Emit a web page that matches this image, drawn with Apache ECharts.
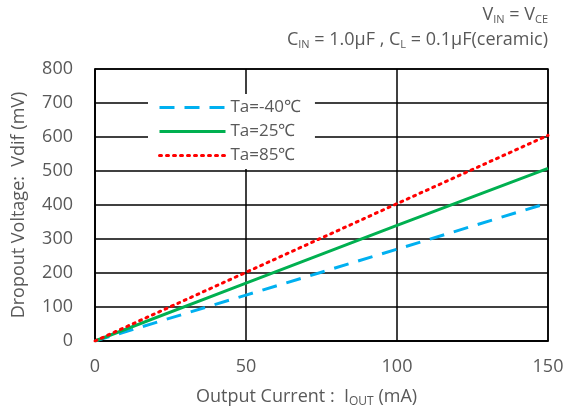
<!DOCTYPE html>
<html><head><meta charset="utf-8">
<script src="https://cdn.jsdelivr.net/npm/echarts@6/dist/echarts.min.js"></script>
<style>html,body{margin:0;padding:0;background:#fff}#c{width:568px;height:414px}</style>
</head><body><div id="c"></div>
<script>
const xValues = [0, 50, 100, 150];
const seriesNames = ['Ta=-40℃', 'Ta=25℃', 'Ta=85℃'];
const vMinus40 = [0, 135, 270, 406];
const v25 = [0, 170, 340, 508];
const v85 = [0, 202, 404, 605];
const xTicks = [0, 50, 100, 150];
const yTicks = [0, 100, 200, 300, 400, 500, 600, 700, 800];

const FONT = '"Open Sans", "Liberation Sans", sans-serif';
const GRAY = '#595959';
const chart = echarts.init(document.getElementById('c'));
const mk = arr => xValues.map((x, i) => [x, arr[i]]);
const sub = (fs) => ({ fontSize: fs, fontFamily: FONT, fill: GRAY, padding: [9, 0, 0, 0] });
chart.setOption({
  animation: false,
  textStyle: { fontFamily: FONT },
  graphic: [
    { type: 'text', right: 20, top: 6, style: {
      text: '{n|V}{s|IN}{n| = V}{s|CE}', rich: {
        n: { fontSize: 18, fontFamily: FONT, fill: GRAY }, s: sub(11) } } },
    { type: 'text', right: 20, top: 31, style: {
      text: '{n|C}{s|IN}{n| = 1.0μF , C}{s|L}{n| = 0.1μF(ceramic)}', rich: {
        n: { fontSize: 18, fontFamily: FONT, fill: GRAY }, s: sub(11) } } },
    { type: 'text', left: 196, top: 388, style: {
      text: '{n|Output Current :  I}{s|OUT}{n| (mA)}', rich: {
        n: { fontSize: 18, fontFamily: FONT, fill: GRAY }, s: sub(12) } } }
  ],
  grid: { left: 95, right: 20, top: 69, bottom: 73, outerBoundsMode: 'none', containLabel: false,
    show: true, borderColor: '#000', borderWidth: 1.5, backgroundColor: 'transparent' },
  legend: {
    left: 148, top: 94, orient: 'vertical', backgroundColor: '#fff',
    padding: [5, 14, 5, 10], itemGap: 7, itemWidth: 66, itemHeight: 18,
    itemStyle: { opacity: 0 },
    lineStyle: { width: 3 },
    textStyle: { color: GRAY, fontSize: 17, fontFamily: FONT },
    data: seriesNames
  },
  xAxis: {
    type: 'value', min: 0, max: 150, interval: 50,
    axisLine: { show: true, lineStyle: { color: '#000', width: 1.5 } },
    axisTick: { show: false },
    axisLabel: { color: GRAY, fontSize: 18, margin: 17, formatter: v => xTicks.includes(v) ? String(v) : '' },
    splitLine: { show: true, lineStyle: { color: '#000', width: 1.5 } }
  },
  yAxis: {
    type: 'value', min: 0, max: 800, interval: 100,
    name: 'Dropout Voltage:  Vdif (mV)', nameLocation: 'middle', nameGap: 67,
    nameTextStyle: { color: GRAY, fontSize: 18, fontFamily: FONT },
    axisLine: { show: true, lineStyle: { color: '#000', width: 1.5 } },
    axisTick: { show: false },
    axisLabel: { color: GRAY, fontSize: 18, margin: 22, formatter: v => yTicks.includes(v) ? String(v) : '' },
    splitLine: { show: true, lineStyle: { color: '#000', width: 1.5 } }
  },
  series: [
    { name: seriesNames[0], type: 'line', data: mk(vMinus40), showSymbol: false, symbol: 'none',
      lineStyle: { color: '#00B0F0', width: 3, type: [15, 10] }, itemStyle: { color: '#00B0F0' }, z: 3 },
    { name: seriesNames[1], type: 'line', data: mk(v25), showSymbol: false, symbol: 'none',
      lineStyle: { color: '#00B050', width: 3 }, itemStyle: { color: '#00B050' }, z: 4 },
    { name: seriesNames[2], type: 'line', data: mk(v85), showSymbol: false, symbol: 'none',
      lineStyle: { color: '#FF0000', width: 3, type: [2, 5], cap: 'round' }, itemStyle: { color: '#FF0000' }, z: 5 }
  ]
});
</script></body></html>
